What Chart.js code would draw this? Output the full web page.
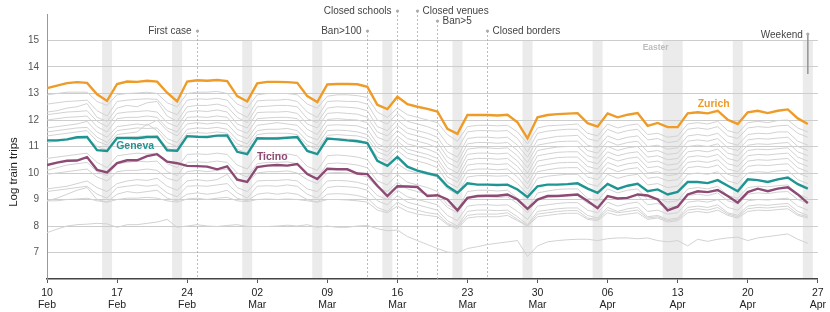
<!DOCTYPE html>
<html lang="en">
<head>
<meta charset="UTF-8">
<title>Log train trips by canton</title>
<script src="https://cdn.jsdelivr.net/npm/chart.js"></script>
<style>
  body { margin: 0; background: #fff; }
</style>
</head>
<body>
<canvas id="trips" width="830" height="312"></canvas>
<script>
// days counted from Mon 10 Feb 2020 (day 0) to Sun 26 Apr 2020 (day 76)
const tickDays = [0, 7, 14, 21, 28, 35, 42, 49, 56, 63, 70, 77];
const tickLabels = [['10','Feb'],['17','Feb'],['24','Feb'],['02','Mar'],['09','Mar'],['16','Mar'],
                    ['23','Mar'],['30','Mar'],['06','Apr'],['13','Apr'],['20','Apr'],['27','Apr']];
const yTicks = [7, 8, 9, 10, 11, 12, 13, 14, 15];

const zurich = [
  13.20,13.30,13.39,13.43,13.40,12.97,12.72,
  13.36,13.45,13.44,13.48,13.45,13.03,12.70,
  13.45,13.50,13.48,13.51,13.47,12.90,12.70,
  13.38,13.44,13.44,13.43,13.40,12.90,12.68,
  13.34,13.36,13.36,13.35,13.25,12.57,12.41,
  12.88,12.60,12.50,12.42,12.32,11.67,11.48,
  12.19,12.19,12.19,12.17,12.20,11.91,11.31,
  12.10,12.19,12.22,12.24,12.26,11.88,11.75,
  12.25,12.10,12.20,12.26,11.78,11.89,11.73,
  11.73,12.25,12.29,12.25,12.35,12.01,11.85,
  12.29,12.35,12.26,12.35,12.40,12.06,11.85];
const geneva = [
  11.23,11.23,11.27,11.35,11.36,10.86,10.83,
  11.32,11.32,11.31,11.36,11.37,10.86,10.84,
  11.39,11.37,11.36,11.41,11.42,10.80,10.71,
  11.31,11.30,11.30,11.33,11.36,10.83,10.71,
  11.30,11.27,11.23,11.20,11.13,10.46,10.27,
  10.61,10.24,10.09,9.99,9.90,9.50,9.25,
  9.61,9.56,9.56,9.55,9.56,9.38,9.09,
  9.50,9.56,9.56,9.58,9.61,9.41,9.25,
  9.59,9.40,9.52,9.59,9.31,9.38,9.19,
  9.29,9.66,9.66,9.62,9.73,9.52,9.31,
  9.76,9.73,9.66,9.76,9.83,9.58,9.41];
const ticino = [
  10.30,10.39,10.46,10.47,10.60,10.12,10.02,
  10.37,10.48,10.48,10.64,10.71,10.43,10.37,
  10.27,10.26,10.24,10.14,10.25,9.75,9.66,
  10.22,10.28,10.30,10.28,10.34,9.96,9.77,
  10.16,10.14,10.14,9.98,9.96,9.52,9.13,
  9.50,9.49,9.47,9.13,9.16,9.00,8.59,
  9.06,9.13,9.14,9.14,9.19,9.00,8.65,
  9.00,9.13,9.13,9.16,9.19,8.94,8.67,
  9.13,9.04,9.06,9.19,9.15,9.00,8.59,
  8.73,9.19,9.31,9.28,9.36,9.13,8.88,
  9.28,9.41,9.31,9.41,9.46,9.19,8.86];

// the other cantons, drawn in light grey
const otherCantons = [
  [12.95,13.0,13.05,13.05,13.05,12.7,12.55, 12.95,13.0,13.02,13.05,13.0,12.65,12.5, 13.0,13.05,13.05,13.08,13.0,12.6,12.45,
   12.95,13.0,13.0,13.0,12.95,12.6,12.45, 12.9,12.95,12.95,12.92,12.85,12.3,12.1, 12.45,12.2,12.1,12.0,11.9,11.45,11.2,
   11.75,11.8,11.8,11.78,11.8,11.55,11.1, 11.7,11.78,11.8,11.82,11.85,11.5,11.4, 11.85,11.7,11.8,11.85,11.45,11.5,11.35,
   11.4,11.85,11.9,11.85,11.95,11.6,11.5, 11.9,11.95,11.9,11.98,12.0,11.7,11.55],
  [12.6,12.65,12.7,12.72,12.75,12.35,12.15, 12.7,12.75,12.78,12.8,12.78,12.35,12.2, 12.75,12.8,12.78,12.82,12.75,12.3,12.1,
   12.72,12.75,12.75,12.78,12.7,12.3,12.1, 12.7,12.72,12.7,12.7,12.6,12.0,11.85, 12.25,11.95,11.85,11.75,11.6,11.1,10.9,
   11.55,11.6,11.6,11.58,11.6,11.3,10.8, 11.5,11.58,11.62,11.65,11.65,11.3,11.2, 11.65,11.5,11.6,11.65,11.25,11.3,11.15,
   11.2,11.65,11.7,11.65,11.75,11.4,11.3, 11.7,11.75,11.72,11.78,11.8,11.5,11.35],
  [12.3,12.35,12.45,12.5,12.62,12.1,11.95, 12.45,12.55,12.5,12.65,12.7,12.15,11.95, 12.5,12.55,12.55,12.6,12.5,12.1,11.9,
   12.5,12.52,12.55,12.55,12.5,12.05,11.9, 12.45,12.5,12.48,12.45,12.35,11.75,11.6, 12.0,11.7,11.6,11.5,11.35,10.8,10.6,
   11.3,11.35,11.35,11.32,11.35,11.05,10.6, 11.25,11.32,11.38,11.4,11.42,11.05,10.95, 11.4,11.25,11.35,11.4,11.0,11.05,10.9,
   10.95,11.4,11.45,11.4,11.5,11.15,11.05, 11.45,11.5,11.48,11.55,11.55,11.2,11.05],
  [12.2,12.25,12.3,12.32,12.35,11.95,11.75, 12.25,12.3,12.32,12.35,12.3,11.9,11.75, 12.3,12.35,12.32,12.38,12.3,11.85,11.7,
   12.28,12.3,12.3,12.32,12.25,11.85,11.7, 12.25,12.28,12.25,12.22,12.1,11.55,11.4, 11.8,11.5,11.4,11.3,11.15,10.6,10.4,
   11.1,11.15,11.15,11.12,11.15,10.85,10.4, 11.05,11.12,11.18,11.2,11.2,10.85,10.75, 11.2,11.05,11.15,11.2,10.8,10.85,10.7,
   10.75,11.2,11.25,11.2,11.3,10.95,10.85, 11.25,11.3,11.28,11.32,11.35,11.0,10.85],
  [12.0,12.05,12.1,12.12,12.15,11.75,11.55, 12.05,12.1,12.1,12.15,12.1,11.7,11.55, 12.1,12.12,12.1,12.15,12.1,11.65,11.5,
   12.05,12.08,12.1,12.1,12.05,11.65,11.45, 12.02,12.05,12.02,12.0,11.9,11.35,11.2, 11.6,11.3,11.2,11.1,10.95,10.4,10.2,
   10.9,10.95,10.95,10.92,10.95,10.65,10.2, 10.85,10.92,10.98,11.0,11.0,10.65,10.55, 11.0,10.85,10.95,11.0,10.6,10.65,10.5,
   10.55,11.0,11.05,11.0,11.1,10.75,10.65, 11.05,11.1,11.08,11.12,11.15,10.8,10.65],
  [11.7,11.75,11.8,11.85,11.95,11.55,11.35, 11.75,11.8,11.85,11.8,12.0,11.6,11.4, 11.85,11.9,11.85,11.9,11.85,11.45,11.3,
   11.8,11.85,11.9,11.85,11.8,11.4,11.25, 11.8,11.82,11.8,11.78,11.65,11.1,10.95, 11.4,11.1,11.0,10.9,10.75,10.2,10.0,
   10.7,10.75,10.75,10.72,10.75,10.45,10.0, 10.65,10.72,10.78,10.8,10.8,10.45,10.35, 10.8,10.65,10.75,10.8,10.4,10.45,10.3,
   10.35,10.8,10.85,10.8,10.9,10.55,10.45, 10.85,10.9,10.88,10.92,10.95,10.6,10.45],
  [11.55,11.6,11.65,11.7,11.72,11.35,11.15, 11.6,11.65,11.7,11.68,11.7,11.3,11.15, 11.65,11.7,11.68,11.72,11.65,11.25,11.1,
   11.6,11.65,11.65,11.68,11.6,11.2,11.05, 11.6,11.62,11.6,11.55,11.45,10.95,10.8, 11.2,10.9,10.8,10.7,10.55,10.0,9.8,
   10.5,10.55,10.55,10.52,10.55,10.25,9.8, 10.45,10.52,10.58,10.6,10.6,10.25,10.15, 10.6,10.45,10.55,10.6,10.2,10.25,10.1,
   10.15,10.6,10.65,10.6,10.7,10.35,10.25, 10.65,10.7,10.68,10.72,10.75,10.4,10.25],
  [11.4,11.45,11.5,11.55,11.6,11.2,11.05, 11.45,11.5,11.55,11.85,11.6,11.15,11.0, 11.5,11.52,11.5,11.55,11.5,11.1,10.95,
   11.45,11.5,11.5,11.5,11.45,11.05,10.9, 11.42,11.45,11.42,11.4,11.3,10.8,10.65, 11.05,10.75,10.65,10.55,10.4,9.85,9.65,
   10.3,10.35,10.35,10.32,10.35,10.05,9.6, 10.25,10.32,10.38,10.4,10.4,10.05,9.95, 10.4,10.25,10.35,10.4,10.0,10.05,9.9,
   9.95,10.4,10.45,10.4,10.5,10.15,10.05, 10.45,10.5,10.48,10.52,10.55,10.2,10.05],
  [11.15,11.2,11.25,11.3,11.35,11.0,10.85, 11.3,11.35,11.38,11.4,11.35,10.95,10.8, 11.35,11.38,11.35,11.4,11.35,10.9,10.75,
   11.3,11.32,11.35,11.35,11.3,10.85,10.7, 11.25,11.3,11.28,11.25,11.15,10.6,10.45, 10.85,10.55,10.45,10.35,10.2,9.65,9.45,
   10.1,10.15,10.15,10.12,10.15,9.85,9.4, 10.05,10.12,10.18,10.2,10.2,9.85,9.75, 10.2,10.05,10.15,10.2,9.8,9.85,9.7,
   9.75,10.2,10.25,10.2,10.3,9.95,9.85, 10.25,10.3,10.28,10.32,10.35,10.0,9.85],
  [10.55,10.6,10.65,10.7,10.75,10.4,10.2, 10.65,10.7,10.75,10.72,10.75,10.35,10.2, 10.7,10.72,10.7,10.75,10.7,10.3,10.15,
   10.65,10.7,10.7,10.72,10.65,10.25,10.1, 10.65,10.68,10.65,10.6,10.5,10.0,9.85, 10.35,10.1,10.0,9.95,9.85,9.4,9.2,
   9.85,9.9,9.9,9.88,9.9,9.6,9.2, 9.8,9.88,9.92,9.95,9.95,9.6,9.5, 9.95,9.8,9.9,9.95,9.55,9.6,9.45,
   9.5,9.95,10.0,9.95,10.05,9.7,9.6, 10.0,10.05,10.02,10.08,10.1,9.75,9.6],
  [10.1,10.2,10.3,10.35,10.4,10.05,9.9, 10.35,10.4,10.45,10.42,10.45,10.05,9.9, 10.4,10.42,10.4,10.45,10.4,10.0,9.85,
   10.35,10.4,10.4,10.42,10.35,9.95,9.8, 10.35,10.38,10.35,10.3,10.2,9.7,9.55, 9.95,9.65,9.55,9.45,9.3,8.8,8.6,
   9.3,9.35,9.35,9.32,9.35,9.05,8.65, 9.25,9.32,9.38,9.4,9.4,9.05,8.95, 9.4,9.25,9.35,9.4,9.0,9.05,8.9,
   8.95,9.4,9.45,9.4,9.5,9.15,9.05, 9.45,9.5,9.48,9.52,9.55,9.2,9.05],
  [9.95,10.0,10.05,10.1,10.15,9.85,9.7, 10.05,10.1,10.1,10.15,10.1,9.8,9.7, 10.05,10.1,10.05,10.1,10.15,9.8,9.65,
   10.0,10.05,10.05,10.08,10.0,9.75,9.6, 10.0,10.02,10.0,9.95,9.85,9.45,9.3, 9.65,9.4,9.3,9.2,9.1,8.7,8.5,
   9.05,9.1,9.1,9.08,9.1,8.85,8.5, 9.0,9.08,9.12,9.15,9.15,8.85,8.75, 9.15,9.0,9.1,9.15,8.8,8.85,8.7,
   8.75,9.15,9.2,9.15,9.25,8.95,8.85, 9.2,9.25,9.22,9.28,9.3,9.0,8.85],
  [9.4,9.45,9.5,9.6,9.7,9.45,9.3, 9.6,9.7,9.75,9.72,9.8,9.5,9.35, 9.7,9.75,9.7,9.75,9.95,9.45,9.3,
   9.7,9.72,9.72,9.75,9.7,9.4,9.3, 9.7,9.72,9.7,9.65,9.55,9.15,9.0, 9.35,9.1,9.0,8.9,8.8,8.4,8.2,
   8.75,8.8,8.8,8.78,8.8,8.55,8.25, 8.75,8.8,8.85,8.88,8.88,8.6,8.5, 8.9,8.75,8.85,8.9,8.55,8.6,8.45,
   8.5,8.9,8.95,8.9,9.0,8.7,8.6, 8.95,9.0,8.98,9.02,9.05,8.75,8.6],
  [9.3,9.35,9.4,9.45,9.5,9.2,9.05, 9.45,9.5,9.55,9.5,9.55,9.25,9.1, 9.5,9.52,9.5,9.55,9.6,9.25,9.05,
   9.5,9.52,9.5,9.55,9.5,9.2,9.05, 9.45,9.5,9.48,9.45,9.35,8.95,8.8, 9.15,8.9,8.8,8.7,8.6,8.2,8.0,
   8.55,8.6,8.6,8.58,8.6,8.35,8.05, 8.55,8.6,8.65,8.68,8.68,8.4,8.3, 8.7,8.55,8.65,8.7,8.35,8.4,8.25,
   8.3,8.7,8.75,8.7,8.8,8.5,8.4, 8.75,8.8,8.78,8.82,8.85,8.55,8.4],
  [8.95,9.05,9.2,9.35,9.45,9.0,8.9, 9.2,9.3,9.25,9.3,9.35,9.05,8.95, 9.2,9.25,9.2,9.25,9.35,9.05,8.95,
   9.2,9.25,9.2,9.25,9.2,9.0,8.9, 9.2,9.22,9.2,9.15,9.05,8.7,8.55, 8.9,8.7,8.6,8.5,8.45,8.1,7.95,
   8.4,8.45,8.45,8.45,8.5,8.25,8.0, 8.45,8.5,8.55,8.58,8.58,8.3,8.25, 8.6,8.5,8.55,8.6,8.3,8.35,8.2,
   8.25,8.6,8.65,8.6,8.7,8.45,8.35, 8.65,8.7,8.68,8.72,8.75,8.45,8.35],
  [8.95,8.95,9.0,9.02,9.05,8.95,8.9, 9.0,9.05,9.05,9.08,9.05,8.95,8.9, 9.02,9.05,9.0,9.05,9.08,8.95,8.92,
   9.0,9.02,9.0,9.02,9.0,8.95,8.9, 9.0,9.0,8.98,8.95,8.9,8.6,8.5, 8.75,8.55,8.45,8.4,8.35,8.05,7.9,
   8.3,8.35,8.35,8.35,8.4,8.2,8.0, 8.35,8.4,8.45,8.48,8.48,8.25,8.2, 8.5,8.4,8.45,8.5,8.25,8.3,8.15,
   8.2,8.5,8.55,8.5,8.6,8.4,8.3, 8.55,8.6,8.58,8.62,8.65,8.4,8.3],
  [7.75,7.88,8.0,8.05,8.07,8.1,8.08, 7.95,8.05,8.05,8.1,8.15,8.25,7.95, 8.0,8.05,8.0,7.98,8.02,8.05,7.98,
   7.98,7.98,8.0,8.03,8.0,8.05,7.95, 8.0,7.95,7.95,8.0,8.02,7.9,7.82, 7.85,7.6,7.45,7.3,7.15,7.02,6.98,
   7.15,7.22,7.3,7.35,7.4,7.45,6.85, 7.25,7.4,7.45,7.48,7.5,7.5,7.45, 7.52,7.55,7.55,7.52,7.55,7.45,7.4,
   7.45,7.25,7.5,7.42,7.5,7.55,7.58, 7.45,7.55,7.6,7.65,7.7,7.5,7.35]
];

const sundays = [6, 13, 20, 27, 34, 41, 48, 55, 69, 76];
const easterDays = [61.5, 63.5];   // Easter Sunday + Monday
const eventNames = ['First case', 'Ban>100', 'Closed schools', 'Closed venues', 'Ban>5', 'Closed borders'];
const eventDays = [15, 32, 35, 37, 39, 44];
const seriesNames = ['Zurich', 'Geneva', 'Ticino'];
const seriesColors = ['#ee9b27', '#1f9593', '#8d4a74'];
const labelDays = [66.6, 8.8, 22.5];
const labelValues = [12.6, 11.0, 10.6];

const toPoints = arr => arr.map((v, i) => ({ x: i, y: v }));

const datasets = [zurich, geneva, ticino].map((s, i) => ({
  label: seriesNames[i], data: toPoints(s), borderColor: seriesColors[i],
  borderWidth: 2.4, pointRadius: 0, tension: 0
}));
otherCantons.forEach(s => datasets.push({
  data: toPoints(s), borderColor: '#d2d2d2', borderWidth: 1, pointRadius: 0, tension: 0
}));

const FONT = '"Liberation Sans", Arial, sans-serif';

const decor = {
  id: 'decor',
  beforeDraw(chart) {
    const { ctx, chartArea: a, scales: { x, y } } = chart;
    const top = y.getPixelForValue(15);
    ctx.save();
    ctx.fillStyle = '#ebebeb';
    sundays.forEach(d => {
      const l = x.getPixelForValue(d - 0.5), r = x.getPixelForValue(d + 0.5);
      ctx.fillRect(l, top, r - l, a.bottom - top);
    });
    const el = x.getPixelForValue(easterDays[0]), er = x.getPixelForValue(easterDays[1]);
    ctx.fillRect(el, top, er - el, a.bottom - top);
    ctx.restore();
  },
  beforeDatasetsDraw(chart) {
    const { ctx, chartArea: a, scales: { x } } = chart;
    const rows = [2, 2, 0, 0, 1, 2];
    ctx.save();
    ctx.strokeStyle = '#aaa';
    ctx.lineWidth = 0.8;
    ctx.setLineDash([2, 2]);
    eventDays.forEach((d, i) => {
      const px = Math.round(x.getPixelForValue(d)) + 0.5;
      ctx.beginPath();
      ctx.moveTo(px, 11 + rows[i] * 10);
      ctx.lineTo(px, a.bottom);
      ctx.stroke();
    });
    ctx.restore();
  },
  afterDraw(chart) {
    const { ctx, chartArea: a, scales: { x, y } } = chart;
    const rows = [2, 2, 0, 0, 1, 2];
    const side = ['l', 'l', 'l', 'r', 'r', 'r'];
    ctx.save();
    ctx.textBaseline = 'middle';
    ctx.font = '10px ' + FONT;
    eventDays.forEach((d, i) => {
      const px = Math.round(x.getPixelForValue(d)) + 0.5;
      const py = 11 + rows[i] * 10;
      ctx.fillStyle = '#aaa';
      ctx.beginPath(); ctx.arc(px, py, 1.6, 0, Math.PI * 2); ctx.fill();
      ctx.fillStyle = '#444';
      ctx.textAlign = side[i] === 'l' ? 'right' : 'left';
      ctx.fillText(eventNames[i], side[i] === 'l' ? px - 6 : px + 5, py);
    });

    // weekend marker over the last weekend band
    const wx = x.getPixelForValue(sundays[sundays.length - 1]);
    ctx.strokeStyle = '#999';
    ctx.lineWidth = 1.6;
    ctx.beginPath(); ctx.moveTo(wx, a.top + 20); ctx.lineTo(wx, a.top + 60); ctx.stroke();
    ctx.fillStyle = '#aaa';
    ctx.beginPath(); ctx.arc(wx, a.top + 20, 1.6, 0, Math.PI * 2); ctx.fill();
    ctx.fillStyle = '#444';
    ctx.textAlign = 'right';
    ctx.fillText('Weekend', wx - 5, a.top + 21);

    ctx.fillStyle = '#bdbdbd';
    ctx.font = 'bold 8.5px ' + FONT;
    ctx.textAlign = 'center';
    ctx.fillText('Easter', x.getPixelForValue(60.8), a.top + 34);

    ctx.font = 'bold 10.5px ' + FONT;
    seriesNames.forEach((n, i) => {
      ctx.fillStyle = seriesColors[i];
      ctx.fillText(n, x.getPixelForValue(labelDays[i]), y.getPixelForValue(labelValues[i]));
    });

    ctx.fillStyle = '#222';
    ctx.font = '11.5px ' + FONT;
    ctx.translate(14, 172);
    ctx.rotate(-Math.PI / 2);
    ctx.fillText('Log train trips', 0, 0);
    ctx.restore();
  }
};

new Chart(document.getElementById('trips'), {
  type: 'line',
  data: { datasets },
  options: {
    responsive: false,
    animation: false,
    layout: { padding: { top: 10, right: 11.5, left: 0, bottom: 0 } },
    plugins: { legend: { display: false }, tooltip: { enabled: false } },
    scales: {
      x: {
        type: 'linear', min: 0, max: 77,
        afterBuildTicks: axis => { axis.ticks = tickDays.map(v => ({ value: v })); },
        afterFit: axis => { axis.height = 33; },
        ticks: {
          autoSkip: false, maxRotation: 0, padding: 4, color: '#222',
          font: { family: FONT, size: 10.5, lineHeight: 1.15 },
          callback: v => tickLabels[tickDays.indexOf(v)]
        },
        grid: { drawOnChartArea: false, drawTicks: true, tickLength: 4, color: '#555' },
        border: { display: true, color: '#444', width: 1.5 }
      },
      y: {
        type: 'linear', min: 6, max: 16,
        afterBuildTicks: axis => { axis.ticks = [6].concat(yTicks, [16]).map(v => ({ value: v })); },
        afterFit: axis => { axis.width = 47; },
        ticks: {
          padding: 8, color: '#555', font: { family: FONT, size: 10 },
          callback: v => yTicks.includes(v) ? String(v) : ''
        },
        grid: {
          drawTicks: false, lineWidth: 1,
          color: c => yTicks.includes(c.tick.value) ? '#cdcdcd' : 'rgba(0,0,0,0)'
        },
        border: { display: true, color: '#999', width: 1 }
      }
    }
  },
  plugins: [decor]
});
</script>
</body>
</html>
